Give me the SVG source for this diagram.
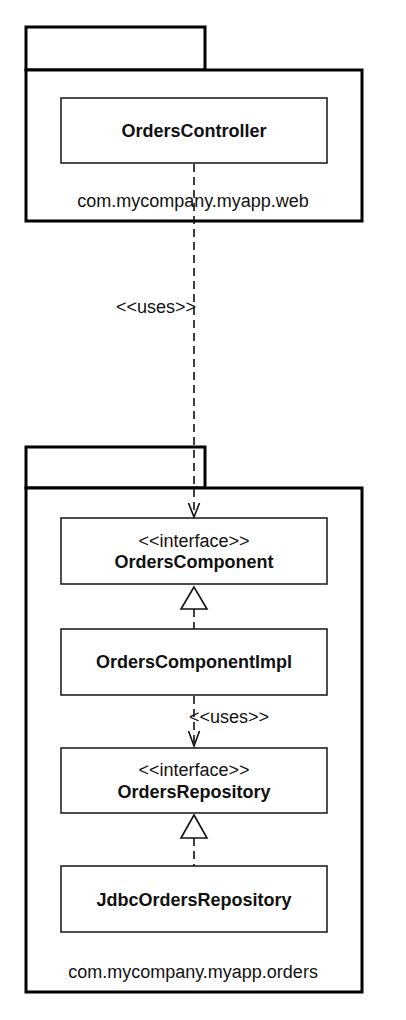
<svg xmlns="http://www.w3.org/2000/svg" width="406" height="1020" viewBox="0 0 406 1020">
<defs>
<style>
.pkg{fill:#fff;stroke:#000;stroke-width:3}
.box{fill:#fff;stroke:#222;stroke-width:1.6}
.t{font-family:"Liberation Sans",Arial,sans-serif;font-size:18px;fill:#111;text-anchor:middle}
.b{font-weight:bold}
.dash{stroke:#111;stroke-width:1.6;stroke-dasharray:8 5;fill:none}
.open{stroke:#111;stroke-width:1.6;fill:none}
.tri{stroke:#111;stroke-width:1.6;fill:#fff}
</style>
</defs>
<rect width="406" height="1020" fill="#fff"/>
<g id="pkg-web">
<rect class="pkg" x="26" y="27" width="179" height="43"/>
<rect class="pkg" x="26" y="70" width="336" height="151"/>
<text class="t" x="193" y="207">com.mycompany.myapp.web</text>
</g>
<g id="pkg-orders">
<rect class="pkg" x="26" y="447" width="179" height="41"/>
<rect class="pkg" x="26" y="488" width="336" height="504"/>
<text class="t" x="193" y="978">com.mycompany.myapp.orders</text>
</g>
<g id="OrdersController">
<rect class="box" x="61" y="98" width="266" height="65"/>
<text class="t b" x="194" y="137">OrdersController</text>
</g>
<g id="OrdersComponent">
<rect class="box" x="61" y="518" width="266" height="66"/>
<text class="t" x="194" y="547">&lt;&lt;interface&gt;&gt;</text>
<text class="t b" x="194" y="568">OrdersComponent</text>
</g>
<g id="OrdersComponentImpl">
<rect class="box" x="61" y="629" width="266" height="66"/>
<text class="t b" x="194" y="668">OrdersComponentImpl</text>
</g>
<g id="OrdersRepository">
<rect class="box" x="61" y="748" width="266" height="65"/>
<text class="t" x="194" y="776">&lt;&lt;interface&gt;&gt;</text>
<text class="t b" x="194" y="798">OrdersRepository</text>
</g>
<g id="JdbcOrdersRepository">
<rect class="box" x="61" y="866" width="266" height="66"/>
<text class="t b" x="194" y="906">JdbcOrdersRepository</text>
</g>
<g id="connectors">
<line class="dash" x1="194" y1="164" x2="194" y2="516"/>
<polyline class="open" points="188.5,503 194,517 199.5,503"/>
<text class="t" x="156" y="313">&lt;&lt;uses&gt;&gt;</text>
<line class="dash" x1="194" y1="609" x2="194" y2="629" stroke-dasharray="6 4"/>
<polygon class="tri" points="194,587 181,609 207,609"/>
<line class="dash" x1="194" y1="696" x2="194" y2="745" stroke-dasharray="7 5"/>
<polyline class="open" points="188.5,731 194,746 199.5,731"/>
<text class="t" x="229" y="723">&lt;&lt;uses&gt;&gt;</text>
<line class="dash" x1="194" y1="838" x2="194" y2="866" stroke-dasharray="7 5"/>
<polygon class="tri" points="194,815 181,838 207,838"/>
</g>
</svg>
